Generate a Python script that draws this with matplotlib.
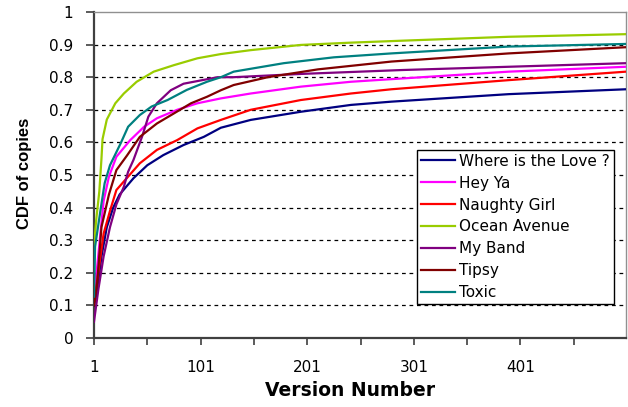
import matplotlib
matplotlib.use("Agg")
import matplotlib.pyplot as plt

# ---- data ----
love_x = [1, 4, 8, 13, 19, 25, 38, 51, 66, 85, 104, 120, 148, 195, 242, 280, 390, 500]
love_y = [0.10, 0.147, 0.25, 0.34, 0.40, 0.44, 0.49, 0.53, 0.561, 0.592, 0.617, 0.645, 0.669, 0.694, 0.715, 0.725, 0.748, 0.763]

heyya_x = [1, 2, 4, 7, 10, 15, 22, 35, 48, 60, 79, 98, 120, 148, 195, 242, 280, 390, 500]
heyya_y = [0.12, 0.17, 0.22, 0.32, 0.42, 0.495, 0.556, 0.607, 0.648, 0.674, 0.70, 0.72, 0.735, 0.75, 0.771, 0.786, 0.794, 0.817, 0.832]

naughty_x = [1, 5, 10, 16, 22, 33, 44, 60, 79, 98, 120, 148, 195, 242, 280, 390, 500]
naughty_y = [0.11, 0.20, 0.32, 0.39, 0.454, 0.495, 0.536, 0.577, 0.607, 0.643, 0.669, 0.70, 0.73, 0.75, 0.763, 0.791, 0.817]

ocean_x = [1, 3, 6, 8, 9, 13, 21, 29, 41, 57, 76, 98, 120, 148, 195, 242, 290, 390, 500]
ocean_y = [0.28, 0.36, 0.45, 0.55, 0.61, 0.67, 0.72, 0.75, 0.786, 0.817, 0.837, 0.858, 0.871, 0.883, 0.899, 0.906, 0.912, 0.924, 0.932]

myband_x = [1, 5, 10, 16, 22, 29, 33, 38, 46, 52, 60, 73, 85, 101, 117, 132, 195, 290, 390, 500]
myband_y = [0.05, 0.147, 0.25, 0.34, 0.41, 0.464, 0.51, 0.546, 0.617, 0.679, 0.72, 0.76, 0.78, 0.79, 0.80, 0.80, 0.81, 0.822, 0.832, 0.843]

tipsy_x = [1, 4, 8, 15, 22, 32, 44, 60, 76, 92, 107, 120, 132, 164, 211, 280, 390, 500]
tipsy_y = [0.10, 0.17, 0.34, 0.44, 0.515, 0.56, 0.617, 0.658, 0.689, 0.72, 0.74, 0.76, 0.776, 0.80, 0.824, 0.848, 0.873, 0.892]

toxic_x = [1, 2, 7, 11, 16, 26, 33, 44, 55, 70, 88, 107, 120, 132, 179, 226, 280, 390, 500]
toxic_y = [0.127, 0.28, 0.39, 0.475, 0.53, 0.597, 0.648, 0.684, 0.71, 0.73, 0.761, 0.786, 0.80, 0.817, 0.843, 0.861, 0.873, 0.894, 0.902]

series_names = ["Where is the Love ?", "Hey Ya", "Naughty Girl", "Ocean Avenue",
                "My Band", "Tipsy", "Toxic"]
series_x = [love_x, heyya_x, naughty_x, ocean_x, myband_x, tipsy_x, toxic_x]
series_y = [love_y, heyya_y, naughty_y, ocean_y, myband_y, tipsy_y, toxic_y]
series_colors = ["#000080", "#FF00FF", "#FF0000", "#99CC00", "#800080", "#800000", "#008080"]

x_major = [1, 101, 201, 301, 401]
x_minor = [51, 151, 251, 351, 451]
y_ticks = [0, 0.1, 0.2, 0.3, 0.4, 0.5, 0.6, 0.7, 0.8, 0.9, 1]
y_labels = ["0", "0.1", "0.2", "0.3", "0.4", "0.5", "0.6", "0.7", "0.8", "0.9", "1"]

# ---- figure ----
plt.rcParams['font.family'] = ['DejaVu Sans']
fig = plt.figure(figsize=(6.28, 4.07), dpi=100)
ax = fig.add_axes([94/628, 1 - 338/407, 532/628, 326/407])

for xs, ys, c, n in zip(series_x, series_y, series_colors, series_names):
    ax.plot(xs, ys, color=c, lw=1.6, label=n, zorder=3)

ax.set_xlim(1, 500)
ax.set_ylim(0, 1)

# grid
for yv in y_ticks[1:-1]:
    ax.axhline(yv, color="black", lw=0.9, ls=(0, (3, 3)), zorder=1)

for s in ["top", "right"]:
    ax.spines[s].set_color("#909090")
    ax.spines[s].set_linewidth(1.0)
for s in ["left", "bottom"]:
    ax.spines[s].set_color("#404040")
    ax.spines[s].set_linewidth(1.6)

ax.set_xticks(x_major)
ax.set_xticks(x_minor, minor=True)
ax.set_xticklabels([str(v) for v in x_major])
ax.set_yticks(y_ticks)
ax.set_yticklabels(y_labels)
ax.tick_params(axis="x", which="both", direction="out", length=5, width=1.2,
               color="#404040", pad=11, labelsize=11)
ax.tick_params(axis="y", direction="out", length=6, width=1.2,
               color="#404040", pad=9, labelsize=11)

ax.set_xlabel("Version Number", fontsize=13.5, fontweight="bold", labelpad=3)
ax.xaxis.set_label_coords((350 - 94) / 532, -(390 - 338) / 326, transform=ax.transAxes)
ax.xaxis.label.set_va("center")
ax.set_ylabel("CDF of copies", fontsize=12, fontweight="bold",
              family=["Liberation Sans", "DejaVu Sans"])
ax.yaxis.set_label_coords(-(94 - 25) / 532, (338 - 173) / 326, transform=ax.transAxes)
ax.yaxis.label.set_va("center")

leg = ax.legend(loc="upper right", bbox_to_anchor=((614 - 94) / 532, (338 - 150) / 326),
                frameon=True, fancybox=False, framealpha=1, edgecolor="black",
                fontsize=11, handlelength=2.2, handletextpad=0.3,
                labelspacing=0.45, borderpad=0.25, borderaxespad=0)
leg.get_frame().set_linewidth(1.0)
leg.set_zorder(5)

fig.savefig("out.png", dpi=100, facecolor="white")
